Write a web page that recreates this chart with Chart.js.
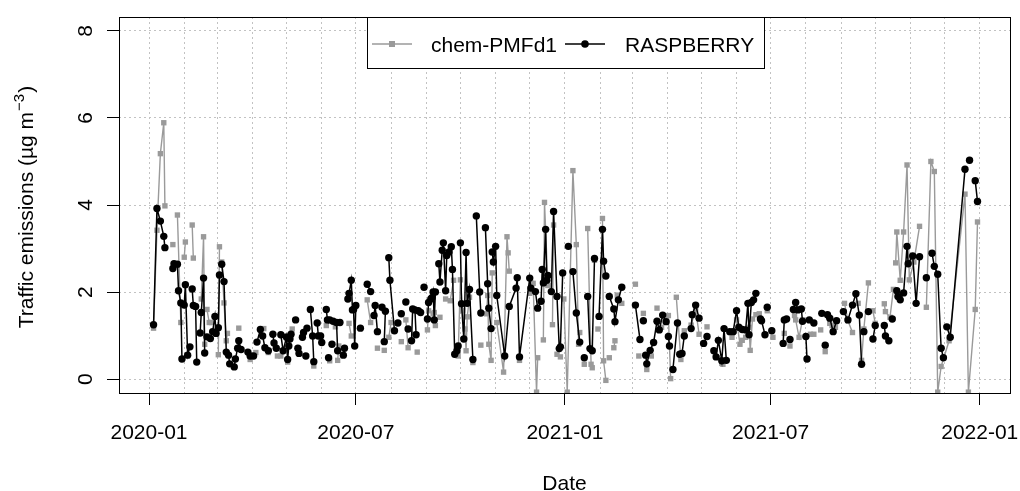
<!DOCTYPE html>
<html>
<head>
<meta charset="utf-8">
<script src="https://cdn.jsdelivr.net/npm/chart.js@4.4.1/dist/chart.umd.min.js"></script>
<style>
  html, body { margin: 0; padding: 0; background: #fff; }
  canvas { display: block; }
</style>
</head>
<body>
<canvas id="chart" width="1020" height="491"></canvas>
<script>
// days since 2020-01-01, one sub-array per unbroken run of the line
const raspDays = [
  [4,7,10,13,14],[21,22,25,26,28,29],[31,32,34,36],[38,39,41,42],[45,46,48,49],[51],
  [54,56,58,59],[61,62],[64,66,68,70,71],[75,76,78,79,81],[87,89,92],[95,98,100,102],[105],
  [109,110,112],[116,118,121,122,123,124,125],[129],[131,132],[135,136],[138],[139],
  [142,144,145],[148,149],[151,152],[156,157],[158],[159],[161],[162],[165,166],[168],[171,172],
  [175,176,178,179,180,181,182],[186],[192,195],[198,199,201],[205],[207,208],[211,212,216],
  [219],[222],[226],[228],[231,232],[234,235],[237,239],[242],[245,246,248,249,250,251,252],
  [255,256,258,259,261,262,264,266,267,269,271,272],[274,275,277,279,280,282,285],[288,291,292],
  [296,298,299,301],[302,303,305,306,313,317,323,324,326,335,336],[340,342,345,346,347,349,350,351],
  [354,356,359,361,362,364],[369],[373,376,379],[383],[386,388,390,392],[396,399,400,402],
  [405,409,410,413,416],[428,432],[435],[437,438,441,444,447,449,452,455],[457,458],[461,465],
  [467,469,471],[477,478,481,484],[488,491],[497,499,501,504,506,508],
  [511,514,517,519,522,525,527,528,530,532,534],[538,539,542],[544],[548],[558,559,561],[564],
  [567,569,571,574,575],[578,579],[581,585],[592],[595],[597,599,602,605],[611,615,619,622,625,627],
  [629],[633],[637,639],[647,648,651],[654],[658,659,661,664,667,668,672,675,678],[684],
  [689,691,694,697,699],[702,705,718],[722],[727,729]
];
const raspValues = [
  [1.25,3.92,3.63,3.28,3.02],[2.54,2.65,2.64,2.03,1.75,0.46],[1.70,2.17,0.55,0.74],[2.07,1.69,1.67,0.39],[1.06,1.53,2.32,0.60],[0.97],
  [0.93,1.09,1.44,1.05],[1.18,2.39],[2.64,2.24,0.62,0.55,0.35],[0.28,0.46,0.71,0.88,0.68],[0.62,0.53,0.53],[0.85,1.14,0.99,0.72],[0.65],
  [1.03,0.83,0.71],[1.02,0.65,0.96,0.45,0.76,0.92,1.03],[1.36],[0.71,0.59],[0.96,1.07],[0.53],[1.17],
  [1.60,0.99,0.40],[1.29,0.99],[0.99,0.84],[1.60,1.36],[0.49],[1.36],[0.80],[1.33],[1.30,0.65],[1.30],[0.55,0.71],
  [1.84,1.97,2.27,1.59,1.60,0.76,1.69],[1.17],[2.18,2.01],[1.46,1.69,1.09],[1.65],[0.86,1.56],[2.79,2.27,1.11],
  [1.29],[1.50],[1.77],[1.15],[0.88,1.61],[1.59,1.02],[1.57,1.53],[2.11],[1.38,1.76,1.84,1.87,2.00,1.36,2.00],
  [2.65,2.23,2.96,3.13,2.03,2.84,2.92,3.04,2.52,0.57,0.65,0.76],[3.13,1.73,0.92,2.91,1.74,2.06,0.45],[3.75,2.00,1.52],
  [3.48,2.19,1.63,1.16],[2.92,2.69,3.05,1.92,0.53,1.67,2.09,2.33,0.51,2.32,2.09],[2.01,1.63,1.79,2.52,2.21,3.44,2.27,2.38],
  [2.01,3.85,1.90,0.70,0.74,2.44],[3.05],[2.47,1.52,0.85],[0.49],[1.90,0.70,0.65,2.77],[1.44,3.44,2.71,2.37],
  [1.90,1.61,1.32,1.82,2.11],[1.70,0.91],[1.34],[0.55,0.35,0.66,0.84,1.33,1.13,1.47,1.32],[0.98,0.76],[0.22,1.29],
  [0.57,0.59,0.99],[1.16,1.48,1.70,1.40],[0.82,0.98],[0.65,0.51,0.89,0.42,1.16,0.43],
  [1.09,1.09,1.57,1.19,1.14,1.13,1.74,1.02,1.76,1.82,1.97],[1.38,1.34,1.02],[1.65],[1.11],[0.82,1.36,1.38],[0.91],
  [1.60,1.76,1.59,1.61,1.33],[0.98,0.46],[1.36,1.29],[1.51],[0.78],[1.48,1.40,1.09,1.34],[1.55,1.36,1.70,1.96,1.47,0.34],
  [1.09],[1.55],[0.92,1.23],[1.23,0.99,0.88],[1.38],[2.03,1.90,1.82,1.98,3.05,2.65,2.83,1.74,2.81],[2.33],
  [2.89,2.59,2.41,0.71,0.49],[1.20,0.96,4.82],[5.03],[4.56,4.08]
];

const chemDays = [
  [4,7,10,13,14],[21],[25,28],[31,32],[38,39],[46,48,49],[51,53,55],[61,62],[64,66,68,69],[79],[89],[94],
  [101],[105],[113,116],[121,122],[126],[132],[145],[156],[159],[164],[166,167],[176,178],[192,195],[201],
  [207],[211,213],[222],[226,228],[233],[236],[245,246],[250,251,252],[256],[261],[265,268],
  [271,272,274,276,278,279,280,282],[285],[292],[297,298,299,301,302],[306,312,315,316,317],[326],
  [335,338,341,342],[347,348,351],[355,356],[359,362],[365,368,373,376,378,379],[383],[386,389,390],
  [392],[395],[399,400,402],[405],[409,410],[412,416],[428],[431],[435],[438],[442],[447],[451],
  [457,459],[464,468],[471],[477,481,484],[491],[504,505],[513],[517,520,522,525,528,529,531,534,537],
  [544],[549],[559],[564],[568,569,572,575],[582,585],[591],[595],[599,601,604],[612,615,619],[624],
  [627,629,633],[637,639],[647,648,652,655],[657,658,661,664,667,669,673,678],
  [684,688,691,694,697,704,718,721,727,729]
];
const chemValues = [
  [1.17,3.42,5.18,5.89,3.98],[3.09],[3.77,1.30],[2.80,3.15],[3.54,2.78],[1.84,3.27,0.80],[1.60,1.30,1.30],[0.56,3.04],[2.69,1.75,0.88,1.05],[1.17],[0.45],[0.61],
  [1.16],[0.61],[0.53,0.53],[0.99,0.39],[1.15],[0.69],[0.30],[1.23],[0.42],[1.20],[0.43,0.76],[1.28,0.99],[1.82,1.30],[0.71],
  [0.66],[0.96,1.30],[0.86],[1.36,0.72],[1.03],[0.62],[1.13,1.57],[1.50,1.53,1.23],[1.42],[1.84],[1.80,2.27],
  [0.72,0.53,2.28,1.57,1.15,0.65,1.43,1.88],[0.38],[0.78],[1.50,1.92,0.80,0.43,2.44],[1.30,0.16,3.27,2.90,2.48],[0.43],
  [1.97,2.20,-0.30,0.49],[0.90,4.06,2.15],[1.25,3.54],[0.57,0.51],[1.84,-0.30,4.79,3.09,0.80,1.07],[0.34],[3.46,0.34,0.26],
  [2.73],[1.15],[3.69,0.42,-0.03],[0.49],[0.72,0.88],[1.93,1.74],[2.18],[0.53],[1.51],[0.22],[0.53],[1.63],[1.19],
  [1.46,0.01],[1.88,0.45],[1.11],[1.24,1.61,1.03],[1.20],[0.36,0.34],[0.96],[1.36,0.80,0.89,0.96,1.19,0.66,1.38,1.48,1.50],
  [1.57],[0.96],[1.05],[0.76],[1.46,1.36,0.96,1.36],[1.03,1.03],[1.13],[0.63],[1.28,1.23,1.19],[1.74,1.34,1.07],[1.74],
  [0.43,1.15,2.21],[1.57,1.28],[1.73,1.55,1.42,2.06],[2.67,3.38,2.27,3.38,4.92,2.28,2.69,3.51],
  [1.65,5.00,4.77,-0.30,0.29,0.88,4.25,-0.30,1.60,3.61]
];

const seriesNames = ['chem-PMFd1', 'RASPBERRY'];
const tickLabels = ['2020-01', '2020-07', '2021-01', '2021-07', '2022-01'];
const yTicks = [0, 2, 4, 6, 8];

const FONT = '"Liberation Sans", Arial, Helvetica, sans-serif';
const GREY = '#9a9a9a';
const DAY = 864e5;
const T0 = Date.UTC(2020, 0, 1);
const dayOf = (y, m) => (Date.UTC(y, m, 1) - T0) / DAY;

const labelDays = tickLabels.map(s => dayOf(+s.slice(0, 4), +s.slice(5) - 1));
const monthDays = [];
for (let y = 2020; y <= 2022; y++) {
  for (let m = 0; m < 12; m++) {
    const d = dayOf(y, m);
    if (d >= 0 && d <= 731) monthDays.push(d);
  }
}

// runs become one dataset, with a null between runs to break the line
function toPoints(daySegs, valSegs) {
  const pts = [];
  daySegs.forEach((seg, s) => {
    if (s > 0) pts.push({ x: seg[0] - 0.5, y: null });
    seg.forEach((d, i) => pts.push({ x: d, y: valSegs[s][i] }));
  });
  return pts;
}

const rFrame = {
  id: 'rFrame',
  afterDraw(chart) {
    const ctx = chart.ctx;
    const a = chart.chartArea;
    const xs = chart.scales.x, ys = chart.scales.y;
    ctx.save();
    ctx.strokeStyle = '#000';
    ctx.lineWidth = 1;
    ctx.strokeRect(Math.round(a.left) + 0.5, Math.round(a.top) + 0.5,
      Math.round(a.right - a.left), Math.round(a.bottom - a.top));

    ctx.fillStyle = '#000';
    ctx.font = '21px ' + FONT;
    // x labels
    ctx.textAlign = 'center';
    ctx.textBaseline = 'alphabetic';
    tickLabels.forEach((t, i) => ctx.fillText(t, xs.getPixelForValue(labelDays[i]), 439));
    ctx.fillText('Date', (a.left + a.right) / 2, 490);

    // y labels, rotated as in base R
    yTicks.forEach(v => {
      ctx.save();
      ctx.translate(92, ys.getPixelForValue(v));
      ctx.rotate(-Math.PI / 2);
      ctx.fillText(String(v), 0, 0);
      ctx.restore();
    });

    // y title with superscript
    const main = 'Traffic emissions (\u00b5g m', sup = '\u22123', tail = ')';
    ctx.save();
    ctx.translate(33, (a.top + a.bottom) / 2 + 3);
    ctx.rotate(-Math.PI / 2);
    ctx.textAlign = 'left';
    const w1 = ctx.measureText(main).width;
    const w3 = ctx.measureText(tail).width;
    ctx.font = '15px ' + FONT;
    const w2 = ctx.measureText(sup).width;
    let x0 = -(w1 + w2 + w3) / 2;
    ctx.font = '21px ' + FONT;
    ctx.fillText(main, x0, 0);
    ctx.font = '15px ' + FONT;
    ctx.fillText(sup, x0 + w1 + 1, -9);
    ctx.font = '21px ' + FONT;
    ctx.fillText(tail, x0 + w1 + w2 + 2, 0);
    ctx.restore();

    // legend box
    const lx = 367, ly = Math.round(a.top), lw = 397, lh = 51, cy = 44;
    ctx.fillStyle = '#fff';
    ctx.fillRect(lx, ly, lw, lh);
    ctx.strokeRect(lx + 0.5, ly + 0.5, lw, lh);
    ctx.lineWidth = 1.4;
    ctx.strokeStyle = GREY;
    ctx.beginPath(); ctx.moveTo(372, cy); ctx.lineTo(412, cy); ctx.stroke();
    ctx.fillStyle = GREY;
    ctx.fillRect(389, cy - 3, 6, 6);
    ctx.strokeStyle = '#000';
    ctx.beginPath(); ctx.moveTo(565, cy); ctx.lineTo(605, cy); ctx.stroke();
    ctx.fillStyle = '#000';
    ctx.beginPath(); ctx.arc(585, cy, 3.8, 0, Math.PI * 2); ctx.fill();
    ctx.textAlign = 'left';
    ctx.font = '21px ' + FONT;
    ctx.fillText(seriesNames[0], 431, 51.5);
    ctx.fillText(seriesNames[1], 625, 51.5);
    ctx.restore();
  }
};

const gridCommon = {
  color: '#c2c2c2',
  lineWidth: 1,
  drawTicks: true,
  tickLength: 12,
  tickWidth: 1,
  tickBorderDash: []
};

new Chart(document.getElementById('chart').getContext('2d'), {
  type: 'line',
  data: {
    datasets: [
      {
        label: seriesNames[0],
        data: toPoints(chemDays, chemValues),
        borderColor: GREY,
        backgroundColor: GREY,
        borderWidth: 1.4,
        pointStyle: 'rect',
        pointRadius: 3.8,
        pointBorderWidth: 0,
        pointBackgroundColor: GREY,
        order: 1
      },
      {
        label: seriesNames[1],
        data: toPoints(raspDays, raspValues),
        borderColor: '#000',
        backgroundColor: '#000',
        borderWidth: 1.5,
        pointStyle: 'circle',
        pointRadius: 3.7,
        pointBorderWidth: 0,
        pointBackgroundColor: '#000',
        order: 0
      }
    ]
  },
  options: {
    responsive: false,
    devicePixelRatio: 1,
    animation: false,
    events: [],
    spanGaps: false,
    clip: 0,
    layout: { padding: { left: 0, right: 10, top: 17, bottom: 0 } },
    elements: { line: { tension: 0 } },
    plugins: { legend: { display: false }, tooltip: { enabled: false } },
    scales: {
      x: {
        type: 'linear',
        min: -26.4,
        max: 757.6,
        afterBuildTicks: s => { s.ticks = monthDays.map(v => ({ value: v })); },
        afterFit: s => { s.height = 98; },
        ticks: { display: false },
        grid: Object.assign({}, gridCommon, {
          tickColor: c => (c.tick && labelDays.includes(c.tick.value)) ? '#000' : 'rgba(0,0,0,0)'
        }),
        border: { display: false, dash: [2, 3] }
      },
      y: {
        type: 'linear',
        min: -0.32,
        max: 8.32,
        afterBuildTicks: s => { s.ticks = yTicks.map(v => ({ value: v })); },
        afterFit: s => { s.width = 119; },
        ticks: { display: false },
        grid: Object.assign({}, gridCommon, { tickColor: '#000' }),
        border: { display: false, dash: [2, 3] }
      }
    }
  },
  plugins: [rFrame]
});
</script>
</body>
</html>
